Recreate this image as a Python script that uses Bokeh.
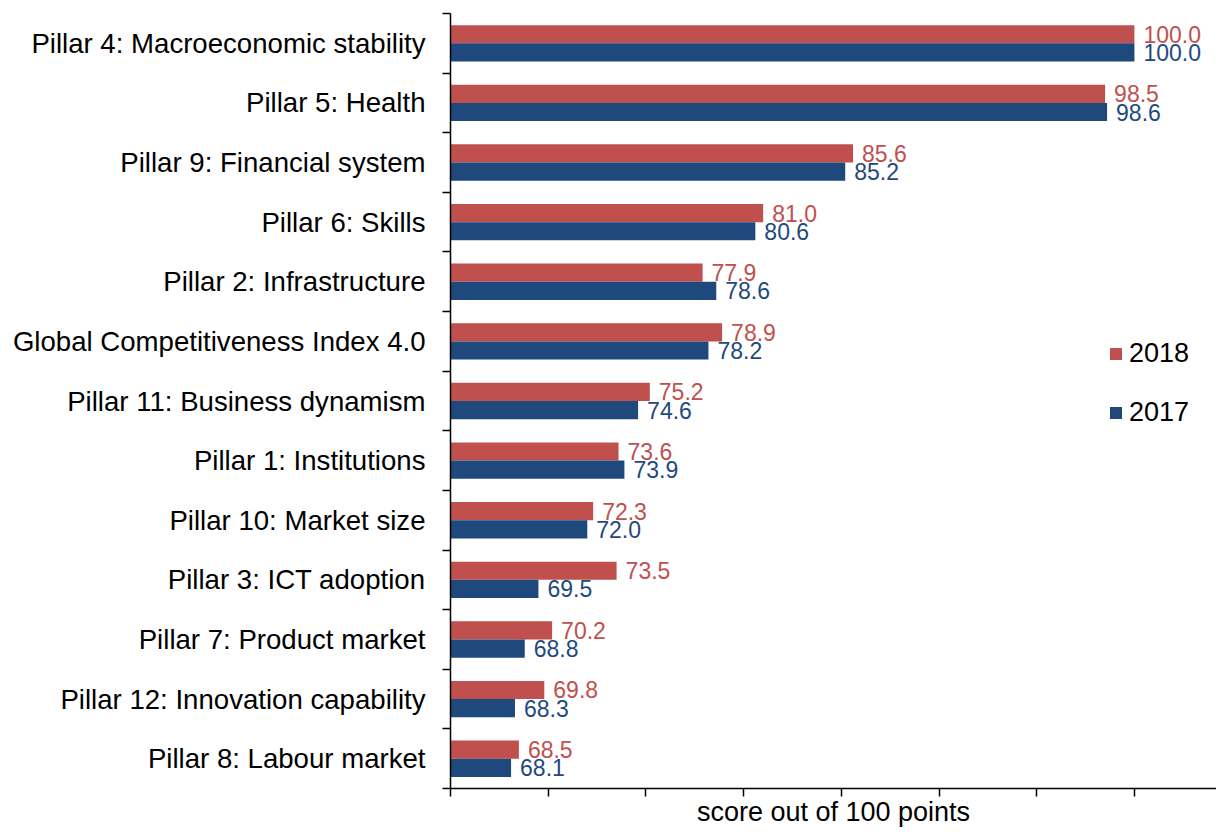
from bokeh.plotting import figure
from bokeh.models import Range1d, FixedTicker, Legend, LegendItem, ColumnDataSource
from bokeh.transform import dodge
from bokeh.core.properties import value
from bokeh.embed import file_html
from bokeh.resources import INLINE

categories = [
    "Pillar 4: Macroeconomic stability",
    "Pillar 5: Health",
    "Pillar 9: Financial system",
    "Pillar 6: Skills",
    "Pillar 2: Infrastructure",
    "Global Competitiveness Index 4.0",
    "Pillar 11: Business dynamism",
    "Pillar 1: Institutions",
    "Pillar 10: Market size",
    "Pillar 3: ICT adoption",
    "Pillar 7: Product market",
    "Pillar 12: Innovation capability",
    "Pillar 8: Labour market",
]
values_2018 = [100.0, 98.5, 85.6, 81.0, 77.9, 78.9, 75.2, 73.6, 72.3, 73.5, 70.2, 69.8, 68.5]
values_2017 = [100.0, 98.6, 85.2, 80.6, 78.6, 78.2, 74.6, 73.9, 72.0, 69.5, 68.8, 68.3, 68.1]
x_ticks = [65, 70, 75, 80, 85, 90, 95, 100]
x_start = 65
x_end = 104.2

RED = "#C0504D"
BLUE = "#1F497D"
FONT = "Liberation Sans"

n = len(categories)
ypos = [n - 1 - i for i in range(n)]

source = ColumnDataSource(dict(
    y=ypos,
    cat=categories,
    v18=values_2018,
    v17=values_2017,
    base=[x_start] * n,
    l18=[f"{v:.1f}" for v in values_2018],
    l17=[f"{v:.1f}" for v in values_2017],
))

p = figure(
    width=1216, height=829,
    x_range=Range1d(x_start, x_end),
    y_range=Range1d(-0.5, n - 0.5),
    output_backend="svg", toolbar_location=None,
    min_border_left=450, min_border_top=13, min_border_right=0, min_border_bottom=38,
)

off = 0.1525
bh = 0.305
r18 = p.hbar(y=dodge("y", off), left="base", right="v18", height=bh,
             fill_color=RED, line_color=None, source=source)
r17 = p.hbar(y=dodge("y", -off), left="base", right="v17", height=bh,
             fill_color=BLUE, line_color=None, source=source)

p.text(x="v18", y=dodge("y", off), text="l18", x_offset=9,
       text_align="left", text_baseline="middle",
       text_font=value(FONT), text_font_size="23px", text_color=RED, source=source)
p.text(x="v17", y=dodge("y", -off), text="l17", x_offset=9,
       text_align="left", text_baseline="middle",
       text_font=value(FONT), text_font_size="23px", text_color=BLUE, source=source)

# x axis
p.xaxis.ticker = FixedTicker(ticks=x_ticks)
p.xaxis.major_label_overrides = {t: "" for t in x_ticks}
p.xaxis.major_label_text_font_size = "1px"
p.xaxis.major_label_standoff = 0
p.xaxis.major_tick_out = 8
p.xaxis.major_tick_in = 0
p.xaxis.minor_tick_out = 0
p.xaxis.minor_tick_in = 0
p.xaxis.axis_label = "score out of 100 points"
p.xaxis.axis_label_text_font = FONT
p.xaxis.axis_label_text_font_size = "27px"
p.xaxis.axis_label_text_font_style = "normal"
p.xaxis.axis_label_text_color = "black"
p.xaxis.axis_label_standoff = 0

# y axis
p.yaxis.ticker = FixedTicker(ticks=ypos, minor_ticks=[k - 0.5 for k in range(n + 1)])
p.yaxis.major_label_overrides = {y: c for y, c in zip(ypos, categories)}
p.yaxis.major_label_text_font = FONT
p.yaxis.major_label_text_font_size = "27.6px"
p.yaxis.major_label_text_color = "black"
p.yaxis.major_label_standoff = 17
p.yaxis.major_tick_out = 0
p.yaxis.major_tick_in = 0
p.yaxis.minor_tick_out = 8
p.yaxis.minor_tick_in = 0

for ax in (p.xaxis, p.yaxis):
    ax.axis_line_color = "black"
    ax.axis_line_width = 1.5
    ax.major_tick_line_color = "black"
    ax.major_tick_line_width = 1.5
    ax.minor_tick_line_color = "black"
    ax.minor_tick_line_width = 1.5

p.grid.visible = False
p.outline_line_color = None

legend = Legend(
    items=[LegendItem(label="2018", renderers=[r18]),
           LegendItem(label="2017", renderers=[r17])],
    location=(658, 360),
    glyph_width=15, glyph_height=15, label_height=30,
    label_text_font=FONT, label_text_font_size="27px", label_text_color="black",
    label_standoff=6, spacing=28, padding=0, margin=0,
    border_line_color=None, background_fill_alpha=0,
)
p.add_layout(legend)

open("out.html", "w").write(file_html(p, INLINE))
